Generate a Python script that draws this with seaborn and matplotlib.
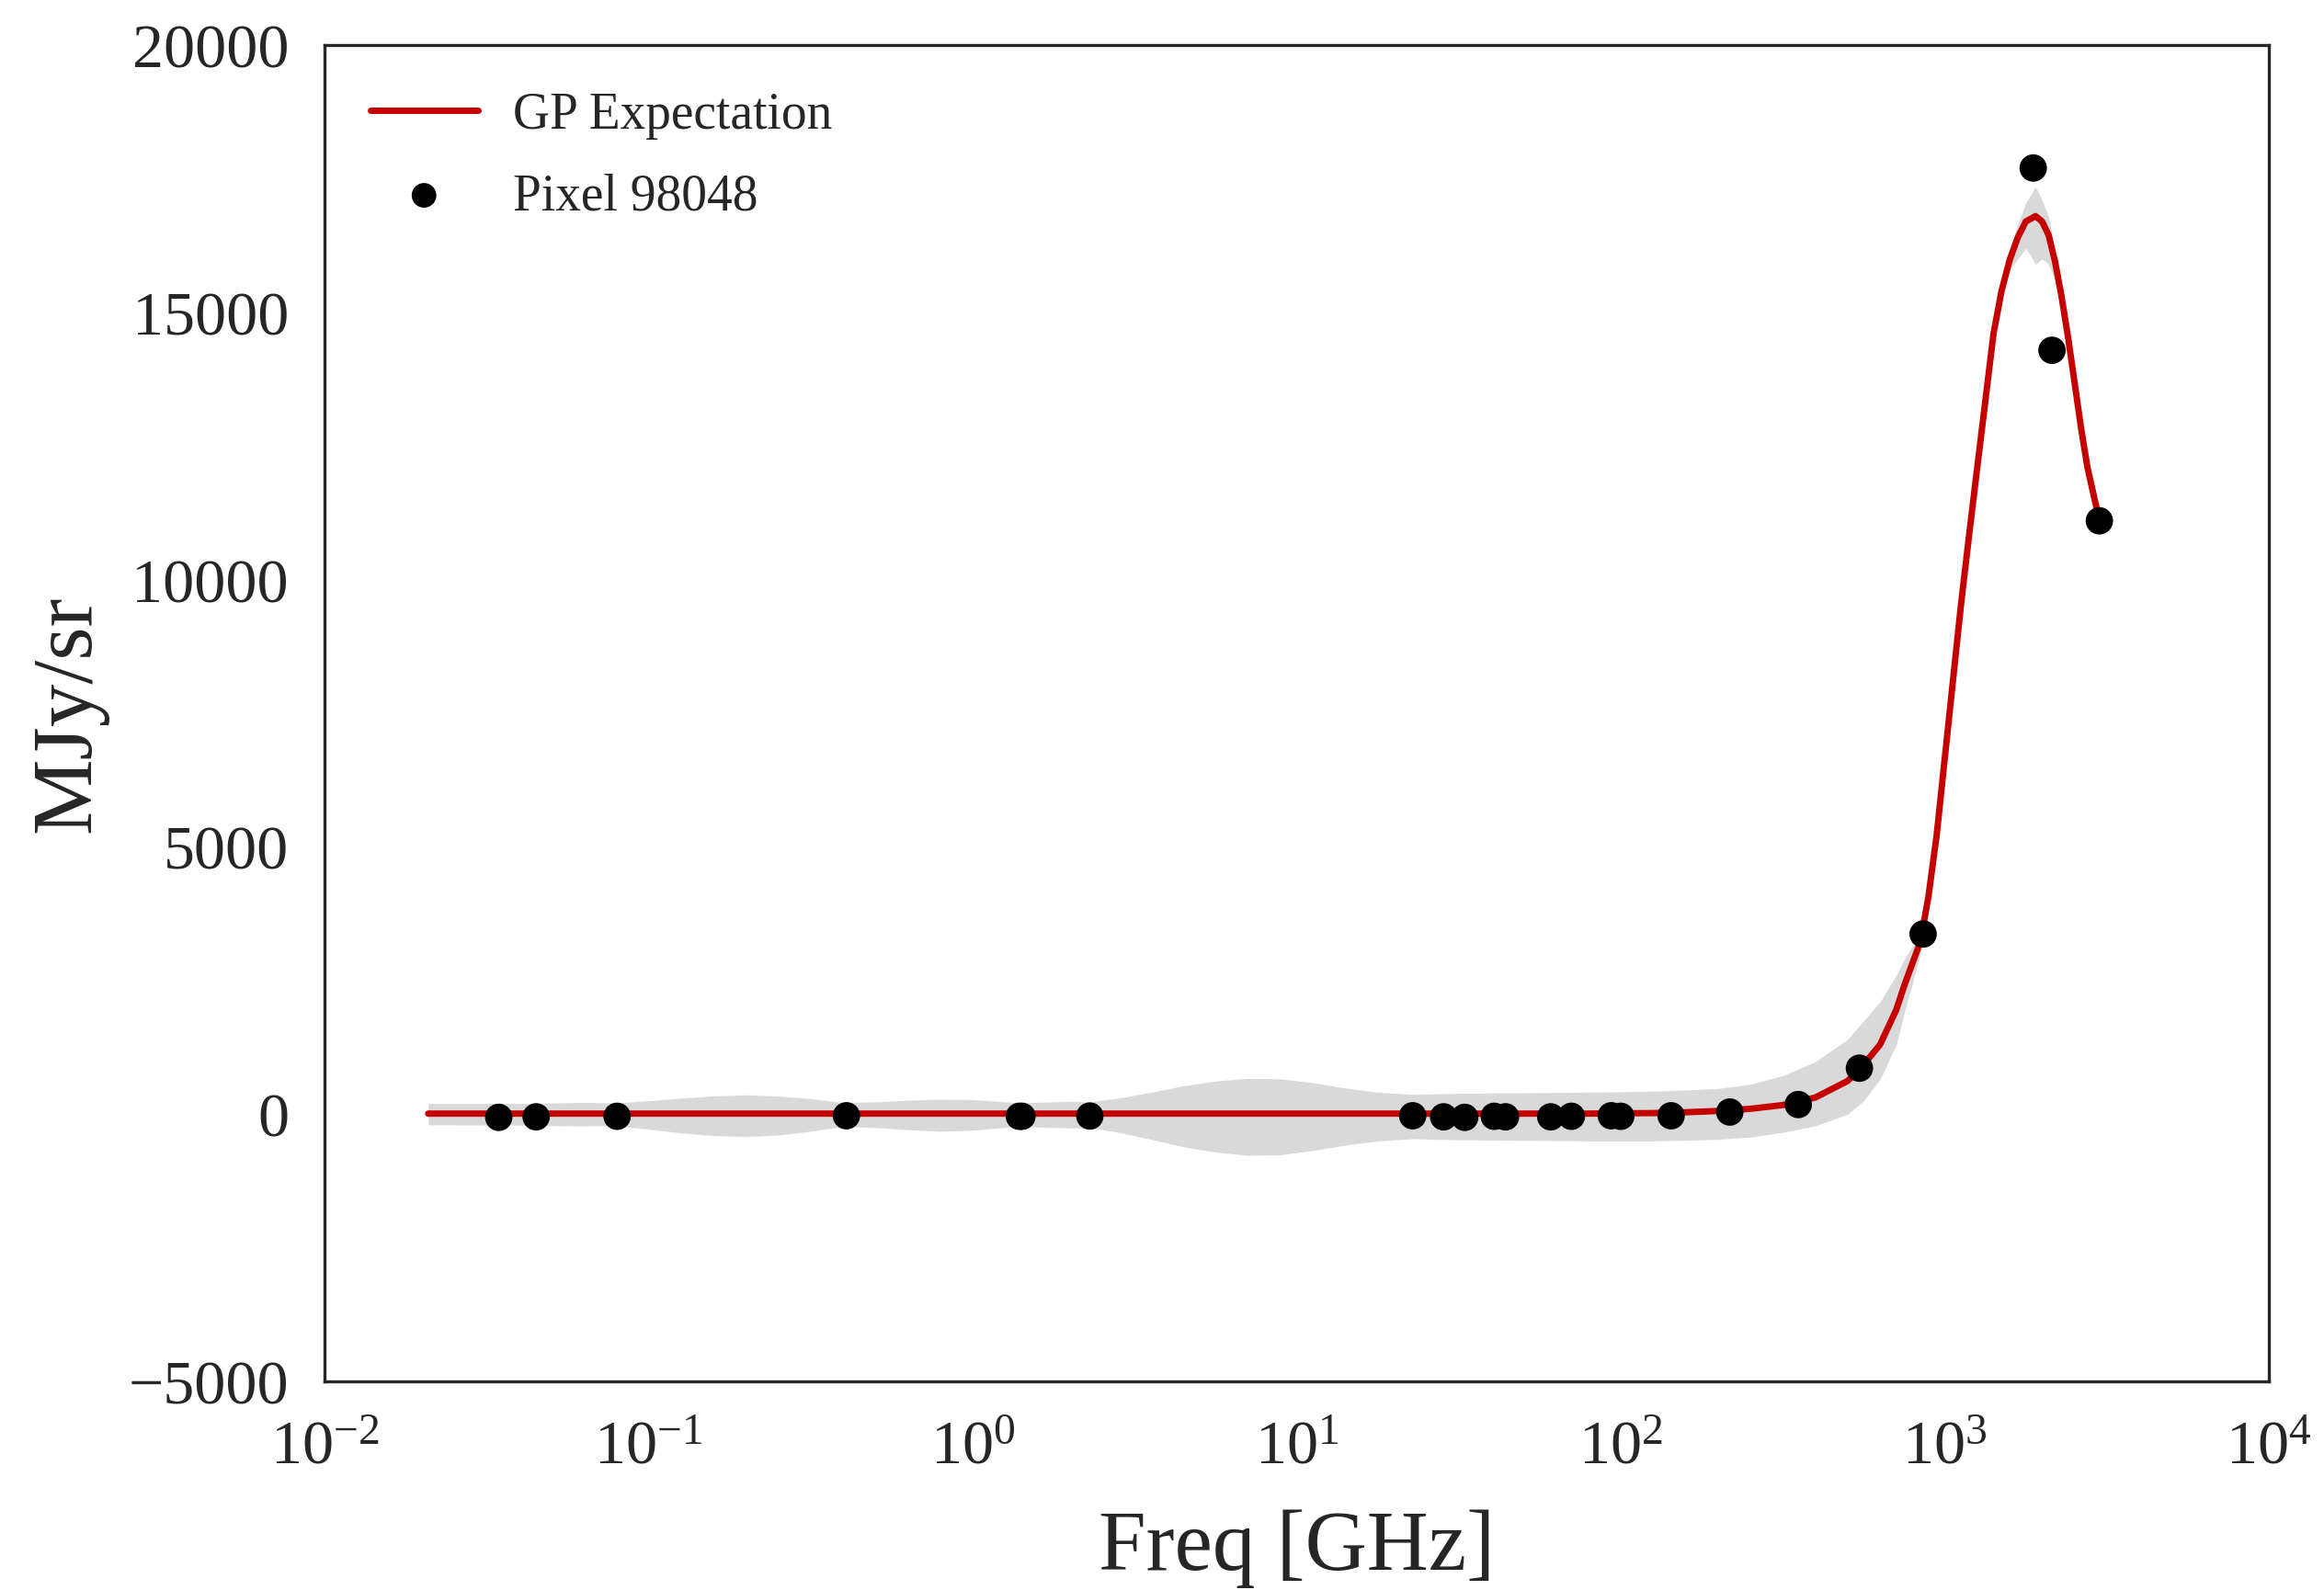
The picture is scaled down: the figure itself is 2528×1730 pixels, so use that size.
import numpy as np
import pandas as pd
import matplotlib
matplotlib.use("Agg")
import matplotlib.pyplot as plt
import seaborn as sns

# ---- data: observed pixel values ----
obs_freq = [0.0345, 0.045, 0.08, 0.408, 1.394, 1.42, 2.3, 22.8, 28.4, 33.0, 40.7, 44.1,
            60.8, 70.4, 93.5, 100.0, 143.0, 217.0, 353.0, 545.0, 857.0, 1874.0, 2141.0, 2998.0]
obs_val = [-60, -50, -40, -30, -40, -40, -35, -30, -50, -60, -40, -50,
           -50, -40, -30, -40, -30, 40, 180, 860, 3370, 17700, 14290, 11100]

# ---- data: GP expectation and uncertainty band ----
gp_freq = [0.0209, 0.0251, 0.0316, 0.0398, 0.0501, 0.0631, 0.0794, 0.1, 0.126, 0.158,
           0.2, 0.251, 0.316, 0.398, 0.501, 0.631, 0.794, 1.0, 1.26, 1.41,
           1.58, 2.0, 2.29, 2.82, 3.55, 4.47, 5.62, 7.08, 8.91, 11.2,
           14.1, 17.8, 22.9, 31.6, 50.1, 79.4, 126.0, 158.0, 200.0, 251.0,
           316.0, 398.0, 501.0, 562.0, 631.0, 708.0, 750.0, 794.0, 841.0, 891.0,
           944.0, 1000.0, 1059.0, 1122.0, 1189.0, 1259.0, 1334.0, 1413.0, 1496.0, 1585.0,
           1679.0, 1778.0, 1905.0, 1995.0, 2089.0, 2188.0, 2291.0, 2399.0, 2512.0, 2630.0,
           2754.0, 2884.0, 3000.0]
gp_mean = [10, 10, 10, 10, 10, 10, 10, 10, 10, 10,
           10, 10, 10, 10, 10, 10, 10, 10, 10, 10,
           10, 10, 10, 10, 10, 10, 10, 10, 10, 10,
           10, 10, 10, 10, 10, 10, 20, 35, 60, 100,
           170, 310, 620, 930, 1300, 1950, 2410, 2820, 3230, 4090,
           5230, 6670, 8100, 9540, 10850, 12100, 13350, 14600, 15400, 15980,
           16400, 16700, 16800, 16700, 16450, 15950, 15300, 14540, 13700, 12850,
           12100, 11560, 11100]
gp_upper = [200, 200, 200, 200, 210, 220, 210, 250, 300, 340,
            360, 340, 290, 220, 230, 260, 280, 270, 230, 210,
            220, 240, 230, 300, 410, 530, 620, 670, 660, 590,
            490, 410, 370, 390, 400, 410, 430, 450, 480, 560,
            720, 980, 1400, 1750, 2100, 2600, 2900, 3150, 3450, 4240,
            5380, 6820, 8250, 9690, 11000, 12250, 13500, 14750, 15550, 16150,
            16650, 17050, 17350, 17100, 16800, 16150, 15500, 14700, 13850, 13000,
            12250, 11750, 11300]
gp_lower = [-200, -200, -205, -205, -215, -220, -215, -280, -350, -400,
            -420, -390, -320, -230, -250, -290, -320, -300, -250, -230,
            -240, -260, -250, -340, -470, -610, -710, -770, -760, -680,
            -580, -500, -460, -480, -490, -500, -500, -490, -470, -430,
            -340, -220, 0, 250, 650, 1300, 1900, 2450, 3000, 3940,
            5080, 6520, 7950, 9390, 10700, 11950, 13200, 14450, 15250, 15800,
            16000, 16200, 15900, 16000, 15900, 15600, 15100, 14380, 13550, 12700,
            11950, 11400, 10770]

ticks_y = [-5000, 0, 5000, 10000, 15000, 20000]

gp_df = pd.DataFrame({"freq": gp_freq, "mean": gp_mean})
obs_df = pd.DataFrame({"freq": obs_freq, "val": obs_val})

sns.set_theme(style="white")
plt.rcParams["font.family"] = ["Liberation Serif", "DejaVu Serif"]
plt.rcParams["mathtext.fontset"] = "custom"
plt.rcParams["mathtext.rm"] = "Liberation Serif"
plt.rcParams["mathtext.it"] = "Liberation Serif:italic"
plt.rcParams["mathtext.bf"] = "Liberation Serif:bold"
plt.rcParams["axes.unicode_minus"] = True

fig = plt.figure(figsize=(12.64, 8.655), dpi=200)
ax = fig.add_axes([0.1396, 0.1311, 0.9763 - 0.1396, 0.9711 - 0.1311])

ax.fill_between(gp_freq, gp_lower, gp_upper, color="0.85", linewidth=0, zorder=1)
sns.lineplot(data=gp_df, x="freq", y="mean", color="#c40000", linewidth=2.5,
             sort=False, ax=ax, label="GP Expectation", zorder=2)
sns.scatterplot(data=obs_df, x="freq", y="val", color="black", s=115, edgecolor="none",
                ax=ax, label="Pixel 98048", zorder=3)

ax.set_xscale("log")
ax.set_xlim(1e-2, 1e4)
ax.set_ylim(-5000, 20000)
ax.set_yticks(ticks_y)
ax.minorticks_off()
ax.tick_params(axis="y", labelsize=24.5, colors="0.15", pad=8)
ax.tick_params(axis="x", labelsize=24.5, colors="0.15", pad=9)
ax.set_xlabel("Freq [GHz]", fontsize=33.5, color="0.15", labelpad=13)
ax.set_ylabel("MJy/sr", fontsize=33.5, color="0.15", labelpad=8)
for sp in ax.spines.values():
    sp.set_color("0.15")
    sp.set_linewidth(1.2)

leg = ax.legend(loc="upper left", frameon=False, fontsize=20, markerscale=0.9,
                handlelength=2.1, handletextpad=0.7, labelspacing=0.65)
for t in leg.get_texts():
    t.set_color("0.15")

fig.savefig("out.png", dpi=200)
